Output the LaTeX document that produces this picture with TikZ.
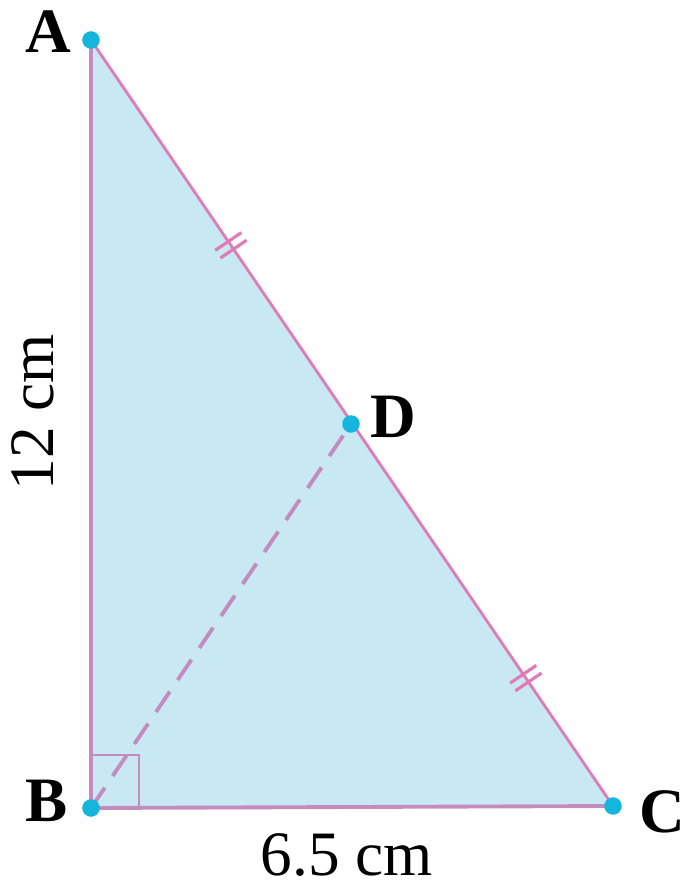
\documentclass[tikz,border=0pt]{standalone}
\usepackage{fontspec}
\setmainfont{Liberation Serif}
\usetikzlibrary{calc}
\definecolor{fillblue}{HTML}{C8E9F3}
\definecolor{edgepink}{HTML}{E27AB6}
\definecolor{edgemauve}{HTML}{C48CBE}
\definecolor{dotcyan}{HTML}{14B6DE}
\begin{document}
\begin{tikzpicture}[
            x=0.02cm, y=-0.02cm,
            every node/.style={font=\fontsize{36}{40}\selectfont},
            vertex/.style={circle,fill=dotcyan,inner sep=0pt,minimum size=10pt},
            leg/.style={draw=edgemauve,line width=2.2pt},
            hyp/.style={draw=edgepink,line width=1.6pt},
            median/.style={draw=edgemauve,line width=2.2pt,dash pattern=on 14pt off 8pt},
            tick/.style={draw=edgepink,line width=1.8pt},
            rightmark/.style={draw=edgemauve,line width=1.2pt}
        ]
        \useasboundingbox (0,0) rectangle (688,887);

        \coordinate (A) at (91,40);
        \coordinate (B) at (91,808);
        \coordinate (C) at (613,806);
        \coordinate (D) at (351,424);

        \fill[fillblue] (A) -- (B) -- (C) -- cycle;
        \draw[median] (B) -- (D);
        \draw[rightmark] ($(B)+(0,-53)$) -- ++(48,0) -- ++(0,53);
        \draw[leg] (A) -- (B) -- (C);
        \draw[hyp] (A) -- (C);

        % equal marks on AD and DC
        \foreach \t in {0.263,0.273,0.828,0.838}
            \draw[tick] ($(A)!\t!(C)!9pt!90:(C)$) -- ($(A)!\t!(C)!9pt!-90:(C)$);

        \node[vertex] (dotA) at (A) {};
        \node[vertex] (dotB) at (B) {};
        \node[vertex] (dotC) at (C) {};
        \node[vertex] (dotD) at (D) {};

        \node[font=\fontsize{36}{40}\selectfont\bfseries] (labA) at (48,32) {A};
        \node[font=\fontsize{36}{40}\selectfont\bfseries] (labB) at (47,801) {B};
        \node[font=\fontsize{36}{40}\selectfont\bfseries] (labC) at (662,812) {C};
        \node[font=\fontsize{36}{40}\selectfont\bfseries] (labD) at (393,417) {D};

        \node[rotate=90] (labAB) at (33,412) {12 cm};
        \node (labBC) at (347,855) {6.5 cm};

    \end{tikzpicture}
\end{document}
